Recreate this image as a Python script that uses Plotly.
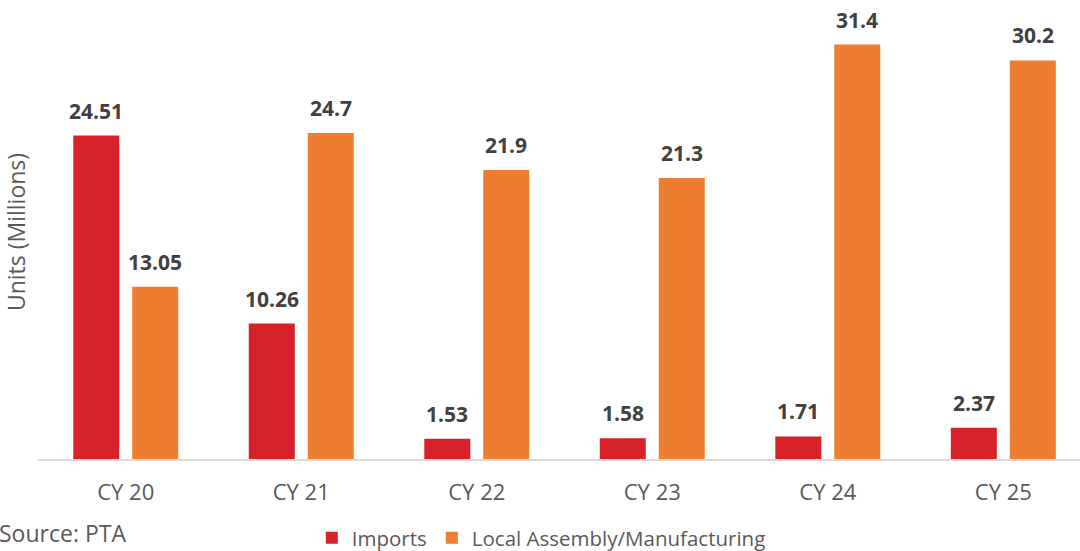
import plotly.graph_objects as go

categories = ["CY 20", "CY 21", "CY 22", "CY 23", "CY 24", "CY 25"]
imports = [24.51, 10.26, 1.53, 1.58, 1.71, 2.37]
local = [13.05, 24.7, 21.9, 21.3, 31.4, 30.2]
imports_labels = ["24.51", "10.26", "1.53", "1.58", "1.71", "2.37"]
local_labels = ["13.05", "24.7", "21.9", "21.3", "31.4", "30.2"]

RED = "#D7222A"
ORANGE = "#ED7D31"
FONT = "Open Sans"

fig = go.Figure()
fig.add_trace(go.Bar(name="Imports", x=categories, y=imports, marker_color=RED,
                     marker_line_width=0))
fig.add_trace(go.Bar(name="Local Assembly/Manufacturing", x=categories, y=local,
                     marker_color=ORANGE, marker_line_width=0))

ann = []
for c, v, t in zip(categories, imports, imports_labels):
    ann.append(dict(x=c, y=v, text="<b>%s</b>" % t, showarrow=False, xshift=-29.5,
                    yshift=25, yanchor="middle", font=dict(size=21, color="#404040", family=FONT)))
for c, v, t in zip(categories, local, local_labels):
    ann.append(dict(x=c, y=v, text="<b>%s</b>" % t, showarrow=False, xshift=29.5,
                    yshift=25, yanchor="middle", font=dict(size=21, color="#404040", family=FONT)))
ann.append(dict(xref="paper", yref="paper", x=-0.039, y=-0.163, xanchor="left", yanchor="middle",
                text="Source: PTA", showarrow=False, font=dict(size=23, color="#595959", family=FONT)))

fig.update_layout(
    width=1080, height=551,
    margin=dict(l=38, r=0, t=5, b=92, autoexpand=False),
    paper_bgcolor="white", plot_bgcolor="white",
    barmode="group", bargap=0.328, bargroupgap=0.22,
    font=dict(family=FONT, color="#595959"),
    showlegend=True,
    legend=dict(orientation="h", x=0.483, xanchor="center", y=-0.174, yanchor="middle",
                font=dict(size=20.5, color="#595959"), itemwidth=30, traceorder="normal"),
    annotations=ann,
)
fig.update_xaxes(range=[-0.5, 5.437], showline=True, linecolor="#D9D9D9", linewidth=1.5,
                 ticks="", tickfont=dict(size=22, color="#595959"), ticklabelstandoff=13,
                 showgrid=False, fixedrange=True, automargin=False)
fig.update_yaxes(range=[0, 34.4], showticklabels=False, showgrid=False, zeroline=False,
                 showline=False, ticks="", automargin=False, fixedrange=True,
                 title=dict(text="Units (Millions)", font=dict(size=23, color="#595959"), standoff=6))

fig.write_html("out.html", config={"displayModeBar": False},
               post_script="document.body.style.margin='0';")
